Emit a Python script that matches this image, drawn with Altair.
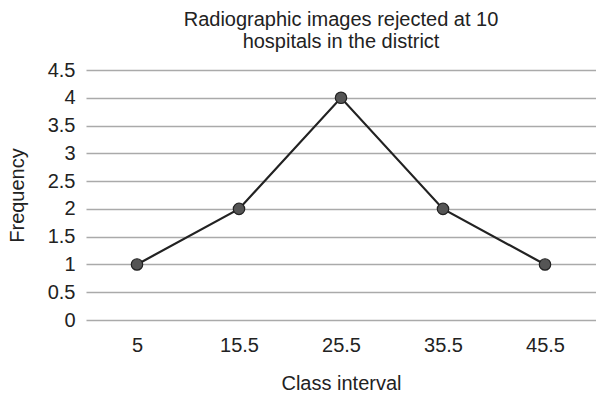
import altair as alt
import pandas as pd

classes = ["5", "15.5", "25.5", "35.5", "45.5"]
freq = [1, 2, 4, 2, 1]
y_ticks = [0, 0.5, 1, 1.5, 2, 2.5, 3, 3.5, 4, 4.5]

df = pd.DataFrame({"Class interval": classes, "Frequency": freq})

FONT = "Liberation Sans"
FS = 20

x = alt.X("Class interval:N", sort=None,
          scale=alt.Scale(type="point", padding=0.5),
          axis=alt.Axis(title="Class interval", labelAngle=0, domain=False, ticks=False,
                        labelPadding=15, titlePadding=18, labelFontSize=FS, titleFontSize=FS,
                        labelFont=FONT, titleFont=FONT, titleFontWeight="normal",
                        labelColor="#222", titleColor="#222"))
y = alt.Y("Frequency:Q",
          scale=alt.Scale(domain=[0, 4.5], nice=False, zero=True),
          axis=alt.Axis(title="Frequency", values=y_ticks, format="~g", domain=False, ticks=False,
                        grid=True, gridColor="#aaaaaa", gridWidth=1.5,
                        labelPadding=11, titlePadding=20, labelFontSize=FS, titleFontSize=FS,
                        labelFont=FONT, titleFont=FONT, titleFontWeight="normal",
                        labelColor="#222", titleColor="#222"))

base = alt.Chart(df).encode(x=x, y=y)
line = base.mark_line(color="#222222", strokeWidth=2.2)
pts = base.mark_point(filled=True, size=130, fill="#555555", stroke="#222222", strokeWidth=1.2, opacity=1)

chart = (line + pts).properties(
    width=510, height=250,
    autosize=alt.AutoSizeParams(type="none"),
    padding={"left": 86, "top": 70, "right": 0, "bottom": 73},
    title=alt.TitleParams(["Radiographic images rejected at 10", "hospitals in the district"],
                          fontSize=FS, font=FONT, fontWeight="normal", color="#222",
                          anchor="middle", offset=8, lineHeight=22),
).configure_view(stroke=None)

chart.save("out.html", embed_options={"renderer": "svg", "actions": False})
